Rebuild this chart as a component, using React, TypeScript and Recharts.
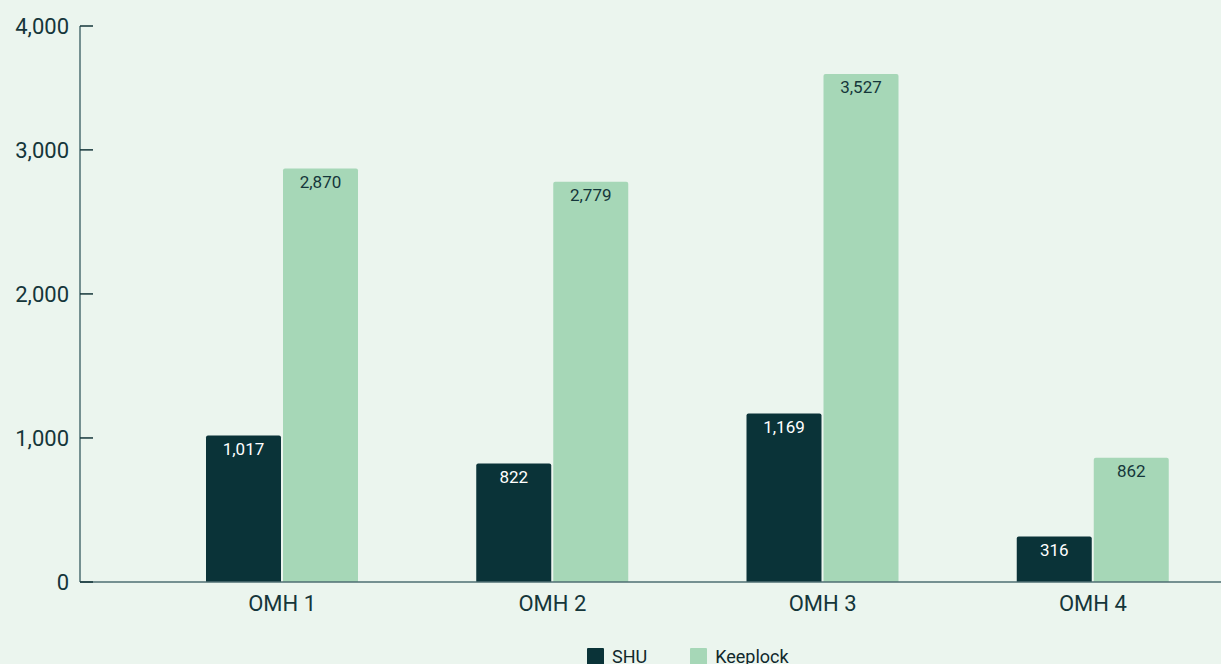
import { Bar, BarChart, LabelList, Legend, XAxis, YAxis } from "recharts";

const categories = ["OMH 1", "OMH 2", "OMH 3", "OMH 4"];
const shu = [1017, 822, 1169, 316];
const keeplock = [2870, 2779, 3527, 862];
// the source axis tops out a bit short of its "4,000" label
const yTicks = [0, 1000, 2000, 3000, 3860];
const yTickLabels = ["0", "1,000", "2,000", "3,000", "4,000"];

const data = categories.map((name, i) => ({ name, shu: shu[i], keeplock: keeplock[i] }));

const bg = "#ebf5ee";
const dark = "#0a3338";
const light = "#a6d7b7";
const ink = "#15363a";
const axisColor = "#4e6e72";
const font = "Roboto, sans-serif";

const fmt = (v: any) => Number(v).toLocaleString("en-US");

function YTick(props: any) {
  const { x, y, payload } = props;
  return (
    <g>
      <text x={x} y={y} dy="0.35em" textAnchor="end" fill={ink} fontSize={22} fontFamily={font}>
        {yTickLabels[payload.index]}
      </text>
      <line x1={x + 11} x2={x + 24} y1={y} y2={y} stroke={ink} strokeWidth={1.5} />
    </g>
  );
}

function LegendBox() {
  const items = [
    { label: "SHU", color: dark },
    { label: "Keeplock", color: light },
  ];
  return (
    <div style={{ height: 36, display: "flex", paddingLeft: 587, paddingTop: 4, boxSizing: "border-box" }}>
      {items.map((it) => (
        <div key={it.label} style={{ display: "flex", alignItems: "flex-start", marginRight: 43 }}>
          <span style={{ width: 17, height: 17, background: it.color, display: "inline-block", marginRight: 8, borderRadius: 1 }} />
          <span style={{ fontFamily: font, fontSize: 18, color: "#10282c", lineHeight: "17px" }}>{it.label}</span>
        </div>
      ))}
    </div>
  );
}

export default function App() {
  return (
    <div style={{ width: 1221, height: 664, overflow: "hidden", background: bg, position: "absolute", left: 0, top: 0 }}>
      <style>{"body{margin:0;background:" + bg + "}"}</style>
      <BarChart
        width={1230}
        height={680}
        data={data}
        margin={{ top: 26, right: 2, bottom: 0, left: 0 }}
        barSize={75}
        barGap={2}
      >
        <XAxis
          dataKey="name"
          height={62}
          padding={{ left: 67, right: 0 }}
          tickLine={false}
          tickSize={0}
          tickMargin={13}
          axisLine={{ stroke: axisColor, strokeWidth: 1.5 }}
          tick={{ fill: ink, fontSize: 22, fontFamily: font }}
        />
        <YAxis
          width={80}
          domain={[0, yTicks[yTicks.length - 1]]}
          ticks={yTicks}
          interval={0}
          tickLine={false}
          tickSize={0}
          tickMargin={11}
          axisLine={{ stroke: axisColor, strokeWidth: 1.5 }}
          tick={<YTick />}
        />
        <Legend verticalAlign="bottom" content={() => <LegendBox />} />
        <Bar dataKey="shu" name="SHU" fill={dark} radius={[2, 2, 0, 0]} isAnimationActive={false}>
          <LabelList dataKey="shu" position="insideTop" offset={7} formatter={fmt} fill="#ffffff" fontSize={17} fontFamily={font} />
        </Bar>
        <Bar dataKey="keeplock" name="Keeplock" fill={light} radius={[2, 2, 0, 0]} isAnimationActive={false}>
          <LabelList dataKey="keeplock" position="insideTop" offset={7} formatter={fmt} fill={ink} fontSize={17} fontFamily={font} />
        </Bar>
      </BarChart>
    </div>
  );
}
